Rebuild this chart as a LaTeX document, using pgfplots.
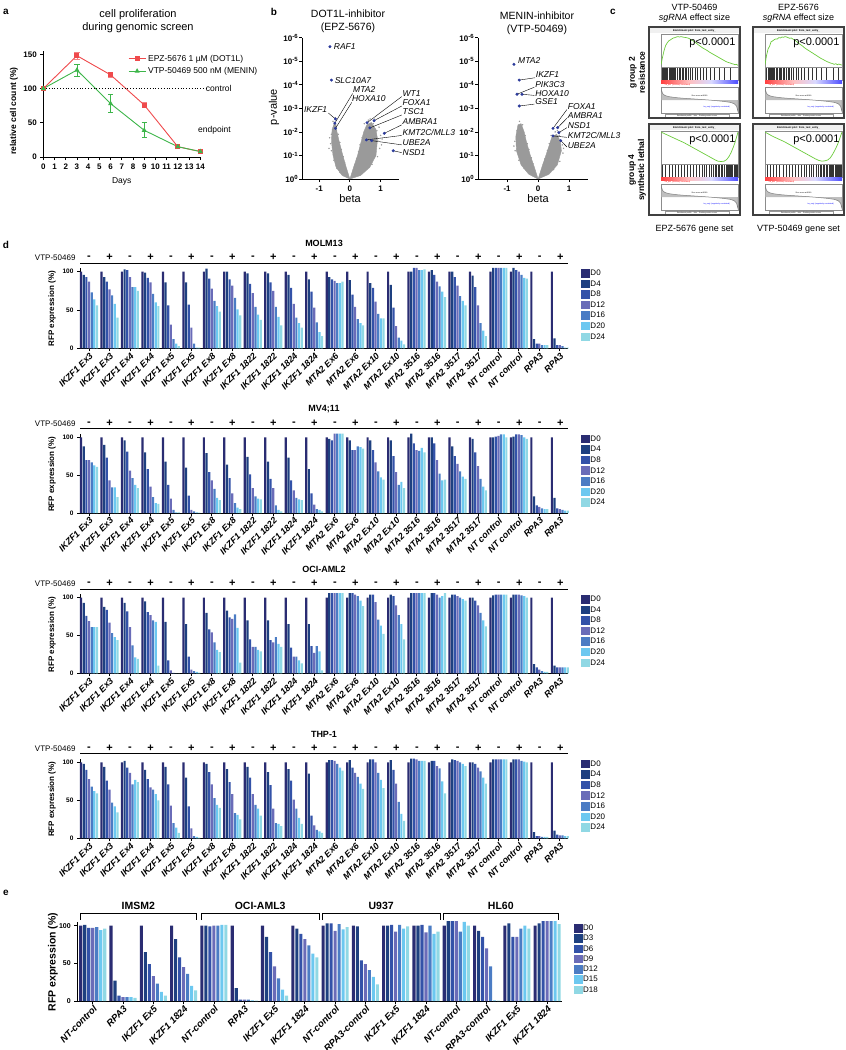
\documentclass[border=0pt]{standalone}
\usepackage{fontspec}
\setmainfont{Liberation Sans}
\usepackage{pgfplots}
\usepackage{pgfplotstable}
\pgfplotsset{compat=1.18}

\definecolor{cD0}{HTML}{2A2C72}
\definecolor{cD1}{HTML}{1E4080}
\definecolor{cD2}{HTML}{3352A8}
\definecolor{cD3}{HTML}{6A6CB8}
\definecolor{cD4}{HTML}{4B7CC4}
\definecolor{cD5}{HTML}{6CC8F0}
\definecolor{cD6}{HTML}{90D8E4}
\definecolor{cRed}{HTML}{EF4A4C}
\definecolor{cGreen}{HTML}{3DB54A}
\definecolor{cBlue}{HTML}{2B3A9A}
\definecolor{cloud}{HTML}{9A9A9A}
\definecolor{esgreen}{HTML}{6CCB3C}

\newcommand{\fs}[1]{\fontsize{#1}{#1}\selectfont}

\pgfplotstableread{
x a b c d e f g
0 100 96 93 87 73 64 56
1 100 93 87 77 69 58 40
2 100 103 102 93 80 80 75
3 100 99 92 86 71 60 55
4 100 86 56 31 12 6 3
5 100 86 57 27 6 1 1
6 100 104 91 78 62 55 48
7 100 100 90 82 66 51 43
8 100 98 84 72 54 44 37
9 100 98 86 75 54 41 30
10 100 96 79 58 40 33 27
11 100 90 74 53 34 21 16
12 100 93 90 88 85 85 87
13 100 89 70 54 38 33 30
14 100 85 79 61 45 39 39
15 100 83 53 29 14 10 5
16 100 100 105 105 102 102 103
17 100 102 96 87 81 74 67
18 100 100 93 82 68 62 56
19 100 95 80 56 33 23 16
20 100 105 105 105 105 105 105
21 100 105 102 100 96 92 91
22 100 12 6 6 4 4 4
23 100 13 4 4 3 1 1
}\tabMOLM

\pgfplotstableread{
x a b c d e f g
0 100 88 70 70 67 63 61
1 100 90 73 43 34 34 21
2 100 96 81 56 46 37 33
3 100 80 58 35 21 13 12
4 100 68 37 19 4 1 1
5 100 60 23 4 2 1 0.5
6 100 79 54 43 32 20 17
7 100 64 46 26 13 7 5
8 100 74 51 33 22 19 18
9 100 68 45 33 10 4 2
10 100 73 43 30 20 18 17
11 100 58 26 11 5 4 2
12 100 98 96 105 105 105 105
13 100 96 83 83 88 87 85
14 100 96 83 67 55 47 44
15 100 96 75 54 37 41 33
16 100 105 92 83 82 86 80
17 100 100 92 70 52 43 44
18 100 88 75 65 55 48 45
19 100 98 80 62 45 35 30
20 100 100 101 102 104 104 100
21 100 101 104 104 103 100 98
22 100 22 10 8 6 5 5
23 100 20 6 5 4 3 3
}\tabMV

\pgfplotstableread{
x a b c d e f g
0 100 93 76 69 61 61 61
1 100 88 84 67 53 48 44
2 100 93 82 61 37 21 19
3 100 95 81 77 70 68 10
4 100 68 17 4 0.5 0 0
5 100 65 22 5 3 2 1
6 100 80 58 54 41 31 28
7 100 83 74 72 78 60 14
8 100 70 45 35 35 31 29
9 100 70 44 41 48 39 35
10 100 65 34 22 22 17 13
11 100 65 36 27 36 29 4
12 100 106 106 106 106 106 106
13 100 106 106 104 102 96 89
14 100 104 104 94 71 63 52
15 100 104 102 90 77 65 45
16 100 106 106 106 106 106 106
17 100 106 106 104 100 102 106
18 100 104 104 102 100 98 96
19 100 100 96 90 80 70 62
20 100 103 104 104 104 104 104
21 100 104 104 104 103 102 100
22 100 12 8 5 3 2 2
23 100 10 8 8 8 8 8
}\tabOCI

\pgfplotstableread{
x a b c d e f g
0 100 98 90 78 68 62 59
1 100 94 76 64 47 42 34
2 100 102 93 86 71 77 74
3 100 90 78 67 64 58 50
4 100 94 71 43 20 14 7
5 100 80 42 13 3 2 1
6 100 98 87 71 53 44 40
7 100 91 74 58 33 31 25
8 100 94 80 58 44 39 30
9 100 87 70 39 20 19 16
10 100 91 76 51 39 27 19
11 100 85 30 17 11 9 7
12 100 103 103 102 98 93 89
13 100 103 93 86 81 72 65
14 100 104 104 100 86 77 66
15 100 103 90 72 48 32 23
16 100 105 105 104 102 102 102
17 100 102 102 95 92 75 59
18 100 104 103 102 100 98 95
19 100 100 98 93 88 80 72
20 100 104 104 104 104 104 104
21 100 104 104 104 102 101 100
22 100 8 3 3 2 2 2
23 100 10 5 4 4 3 3
}\tabTHP

\pgfplotstableread{
x a b c d e f g
0 100 101 97 97 98 94 96
1 100 27 7 5 5 5 4
2 100 65 49 33 23 12 7
3 100 82 58 45 36 20 14
4 100 100 99 100 100 101 101
5 100 17 2 2 2 1 0.5
6 100 85 65 46 30 15 7
7 100 96 89 82 74 63 58
8 100 103 103 93 102 95 98
9 100 99 54 49 41 32 22
10 100 100 101 92 101 96 99
11 100 100 101 91 100 89 92
12 100 106 106 106 92 105 100
13 100 93 85 70 46 1 0.5
14 100 103 85 85 96 100 96
15 100 103 106 106 106 106 102
}\tabE

\pgfplotsset{
  gp/.style={scale only axis, anchor=south west, axis lines*=left,
    axis line style={line width=1pt,-}, every tick/.style={line width=0.8pt,black},
    tick align=outside, major tick length=3pt, clip=false,
    tick label style={font=\bfseries\fs{7}}},
  sqleg/.style={legend image code/.code={\fill[##1] (0pt,-4pt) rectangle (8.5pt,4.5pt);}},
  barsets/.style={ybar=0.45pt, bar width=2.2pt},
}

\newcommand{\dpanel}[3]{%
\begin{axis}[gp, at={(80pt,-#2pt)}, width=488pt, height=#3pt,
  xmin=-0.44, xmax=23.4, ymin=0, ymax=105, barsets,
  xtick={0,...,23},
  xticklabels={IKZF1 Ex3,IKZF1 Ex3,IKZF1 Ex4,IKZF1 Ex4,IKZF1 Ex5,IKZF1 Ex5,IKZF1 Ex8,IKZF1 Ex8,IKZF1 1822,IKZF1 1822,IKZF1 1824,IKZF1 1824,MTA2 Ex6,MTA2 Ex6,MTA2 Ex10,MTA2 Ex10,MTA2 3516,MTA2 3516,MTA2 3517,MTA2 3517,NT control,NT control,RPA3,RPA3},
  x tick label style={rotate=45, anchor=north east, inner sep=0.5pt, font=\bfseries\itshape\fs{9}},
  ytick={0,50,100}, yticklabels={0,50,100},
  y tick label style={font=\bfseries\fs{6.5}},
  sqleg, legend cell align=left,
  legend style={at={(1.027,0.985)}, anchor=north west, draw=none, fill=none, font=\fs{8}, row sep=1.9pt, inner sep=0pt, nodes={inner sep=0.6pt}},
  ]
\addplot[fill=cD0,draw=none] table[x=x,y=a]{#1};
\addplot[fill=cD1,draw=none] table[x=x,y=b]{#1};
\addplot[fill=cD2,draw=none] table[x=x,y=c]{#1};
\addplot[fill=cD3,draw=none] table[x=x,y=d]{#1};
\addplot[fill=cD4,draw=none] table[x=x,y=e]{#1};
\addplot[fill=cD5,draw=none] table[x=x,y=f]{#1};
\addplot[fill=cD6,draw=none] table[x=x,y=g]{#1};
\legend{D0,D4,D8,D12,D16,D20,D24}
\end{axis}}

% header for d panels: #1 = y of the 100 tick, #2 = title
\newcommand{\dheader}[2]{%
  \node[font=\bfseries\fs{9}] at (324,#1-28) {#2};
  \node[anchor=east, font=\fs{8}] at (79,#1-14) {VTP-50469};
  \foreach \i in {0,2,...,22}{\node[font=\bfseries\fs{11}] at ({89+20.49*\i},#1-13.5) {-};}
  \foreach \i in {1,3,...,23}{\node[font=\bfseries\fs{11}] at ({89+20.49*\i},#1-14) {+};}
  \draw[line width=0.9pt] (80,#1-8.5) -- (568,#1-8.5);
  \node[rotate=90, font=\bfseries\fs{8}] at (52,#1+37) {RFP expression (\%)};
}

% GSEA mini plot: #1 X, #2 Y, #3 ES coords, #4 hits, #5 ymin, #6 ymax
\newcommand{\gsea}[6]{%
  \fill[black!6] (#1+1,#2+1) rectangle (#1+90,#2+6);
  \node[font=\bfseries\fs{2.6}] at (#1+45.5,#2+3.6) {Enrichment plot: from\_text\_entry\_};
  \begin{axis}[at={({(#1+12)*1pt},{-(#2+40)*1pt})}, anchor=south west, scale only axis,
     width=77pt, height=33pt, xmin=0, xmax=100, ymin=#5, ymax=#6,
     xtick=\empty, ytick=\empty, axis line style={black!45, line width=0.3pt}]
    \addplot[esgreen, line width=0.7pt] coordinates {#3};
  \end{axis}
  \begin{axis}[at={({(#1+12)*1pt},{-(#2+53)*1pt})}, anchor=south west, scale only axis,
     width=77pt, height=12.5pt, xmin=0, xmax=100, ymin=0, ymax=1,
     xtick=\empty, ytick=\empty, axis line style={black!45, line width=0.3pt}]
    \addplot[ycomb, black!80, line width=0.35pt, mark=none] coordinates {#4};
  \end{axis}
  \shade[left color=red!75, right color=red!25] (#1+12,#2+53) rectangle (#1+40,#2+56.5);
  \shade[left color=red!25, right color=blue!15] (#1+40,#2+53) rectangle (#1+62,#2+56.5);
  \shade[left color=blue!15, right color=blue!70] (#1+62,#2+53) rectangle (#1+89,#2+56.5);
  \node[anchor=west, text=red, font=\fs{1.9}] at (#1+12,#2+58.5) {'na\_pos' (positively correlated)};
  \begin{axis}[at={({(#1+12)*1pt},{-(#2+86)*1pt})}, anchor=south west, scale only axis,
     width=77pt, height=26pt, xmin=0, xmax=100, ymin=-1, ymax=1,
     xtick=\empty, ytick=\empty, axis line style={black!45, line width=0.3pt}]
    \addplot[black!50, fill=black!25, line width=0.5pt] coordinates {(0,0)(0,0.9)(2,0.5)(5,0.35)(10,0.26)(20,0.18)(30,0.13)(40,0.09)(50,0.05)(60,0.01)(70,-0.04)(80,-0.1)(90,-0.18)(95,-0.28)(98,-0.45)(100,-0.9)(100,0)};
    \node[font=\fs{1.9}] at (axis cs:50,0.3) {Zero cross at 9919};
    \node[text=blue, font=\fs{1.9}] at (axis cs:72,-0.55) {'na\_neg' (negatively correlated)};
  \end{axis}
  \draw[black!40, line width=0.2pt] (#1+16,#2+87.2) rectangle (#1+80,#2+90.3);
  \node[font=\fs{1.8}] at (#1+48,#2+88.8) {Enrichment profile \quad Hits \quad Ranking metric scores};
  \draw[line width=1.4pt, black!75] (#1,#2) rectangle (#1+91,#2+91);
  \node[anchor=east, font=\fs{11}] at (#1+90,#2+15.5) {p<0.0001};
}

\begin{document}
\begin{tikzpicture}[x=1pt,y=-1pt]
\path[use as bounding box] (0,0) rectangle (846,1050);

% ---------- panel labels ----------
\node[font=\bfseries\fs{10}] at (6,12) {a};
\node[font=\bfseries\fs{10}] at (274,12) {b};
\node[font=\bfseries\fs{10}] at (613,12) {c};
\node[font=\bfseries\fs{10}] at (6,245) {d};
\node[font=\bfseries\fs{10}] at (6,893) {e};

% ---------- panel a ----------
\node[align=center, font=\fontsize{11}{13}\selectfont] at (138,21.5) {cell proliferation\\during genomic screen};
\begin{axis}[gp, at={(43.3pt,-157pt)}, width=157pt, height=106.1pt,
  xmin=0, xmax=14, ymin=0, ymax=155,
  xtick={0,1,2,3,4,5,6,7,8,9,10,11,12,13,14}, xticklabels={0,1,2,3,4,5,6,7,8,9,10,11,12,13,14},
  ytick={0,50,100,150}, yticklabels={0,50,100,150},
  tick label style={font=\bfseries\fs{8}},
  legend style={at={(0.52,1.0)}, anchor=north west, draw=none, fill=none, font=\fs{8.5}, row sep=0.5pt},
  legend cell align=left]
\addplot[cRed, line width=0.9pt, mark=square*, mark size=2pt,
   error bars/.cd, y dir=both, y explicit,
   error bar style={line width=0.7pt, cRed!70}, error mark options={rotate=90, mark size=2.6pt, line width=0.7pt, cRed!70}]
  coordinates {(0,100) +- (0,0) (3,148) +- (0,5) (6,120) +- (0,4) (9,76) +- (0,4) (12,15) +- (0,2) (14,8) +- (0,1)};
\addplot[cGreen, line width=0.9pt, mark=triangle*, mark size=2pt,
   error bars/.cd, y dir=both, y explicit,
   error bar style={line width=0.7pt}, error mark options={rotate=90, mark size=2.6pt, line width=0.7pt}]
  coordinates {(0,100) +- (0,0) (3,127) +- (0,9) (6,78) +- (0,13) (9,39) +- (0,11) (12,15) +- (0,1.5) (14,8) +- (0,1)};
\addplot[black, dotted, line width=0.8pt, forget plot] coordinates {(0,100) (14.5,100)};
\legend{EPZ-5676 1 µM (DOT1L), VTP-50469 500 nM (MENIN)}
\node[anchor=west, font=\fs{8.5}, inner sep=1pt] at (axis cs:14.4,100) {control};
\node[anchor=west, font=\fs{8.5}, inner sep=1pt] at (axis cs:13.7,39) {endpoint};
\end{axis}
\node[font=\fs{8.5}] at (121.7,181) {Days};
\node[rotate=90, font=\bfseries\fs{8.5}] at (14,111) {relative cell count (\%)};

% ---------- panel b ----------
\node[align=center, font=\fontsize{10.5}{13}\selectfont] at (348,21.5) {DOT1L-inhibitor\\(EPZ-5676)};
\node[align=center, font=\fontsize{10.5}{13}\selectfont] at (537,23.5) {MENIN-inhibitor\\(VTP-50469)};
\node[rotate=90, font=\fs{11}] at (274,107) {p-value};
\node[font=\fs{11}] at (350,199) {beta};
\node[font=\fs{11}] at (538,199) {beta};

\begin{axis}[gp, at={(302.3pt,-179pt)}, width=96.7pt, height=141.3pt,
  xmin=-1.55, xmax=1.6, ymin=0, ymax=6,
  xtick={-1,0,1}, xticklabels={-1,0,1},
  ytick={0,1,2,3,4,5,6},
  yticklabels={10\textsuperscript{0},10\textsuperscript{-1},10\textsuperscript{-2},10\textsuperscript{-3},10\textsuperscript{-4},10\textsuperscript{-5},10\textsuperscript{-6}},
  tick label style={font=\bfseries\fs{8}}, y tick label style={inner sep=1pt}]
\addplot[fill=cloud, draw=cloud, line width=0.4pt] coordinates {(0,0)(-0.12,0.5)(-0.23,1.0)(-0.35,1.6)(-0.42,2.0)(-0.45,2.3)(-0.5,2.4)(-0.58,2.1)(-0.6,1.6)(-0.55,1.0)(-0.45,0.5)(-0.25,0.15)(0,0)};
\addplot[fill=cloud, draw=cloud, line width=0.4pt] coordinates {(0,0)(0.12,0.5)(0.25,1.0)(0.35,1.5)(0.45,2.0)(0.55,2.3)(0.7,2.4)(0.85,2.1)(0.9,1.7)(0.85,1.0)(0.65,0.5)(0.35,0.15)(0,0)};
\addplot[only marks, mark=*, mark size=0.5pt, cloud] coordinates {(-0.55,2.45)(-0.52,2.2)(-0.6,1.9)(-0.63,1.5)(-0.6,1.2)(-0.52,0.8)(-0.42,0.45)(-0.32,0.28)(-0.48,2.6)(-0.38,1.9)(-0.33,1.55)(-0.28,1.25)(-0.22,0.95)(-0.17,0.7)(-0.66,1.75)(-0.68,1.3)(0.47,2.35)(0.6,2.5)(0.76,2.35)(0.88,2.05)(0.93,1.6)(0.97,1.3)(0.9,0.95)(0.72,0.62)(0.52,0.4)(0.32,0.22)(0.4,1.75)(0.33,1.45)(0.28,1.15)(0.22,0.85)(0.17,0.6)(1.0,1.85)(1.03,1.45)(0.66,2.55)(0.8,2.6)(0.95,2.2)(1.05,1.7)};
\addplot[only marks, mark=*, mark size=1.3pt, cBlue] coordinates {(-0.65,5.62)(-0.6,4.2)(-0.47,2.55)(-0.49,2.37)(-0.47,2.15)(0.56,2.39)(0.79,2.48)(0.65,2.17)(1.12,1.94)(0.54,1.66)(0.71,1.63)(1.41,1.2)};
\begin{scope}[font=\itshape\fs{8.5}]
\node[anchor=west, inner sep=1pt] at (axis cs:-0.56,5.62) {RAF1};
\node[anchor=west, inner sep=1pt] at (axis cs:-0.53,4.2) {SLC10A7};
\node[anchor=east, inner sep=1pt] at (axis cs:-0.7,2.95) {IKZF1};
\node[anchor=west, inner sep=1pt] at (axis cs:0.07,3.78) {MTA2};
\node[anchor=west, inner sep=1pt] at (axis cs:0.03,3.4) {HOXA10};
\node[anchor=west, inner sep=1pt] at (axis cs:1.68,3.64) {WT1};
\node[anchor=west, inner sep=1pt] at (axis cs:1.68,3.24) {FOXA1};
\node[anchor=west, inner sep=1pt] at (axis cs:1.68,2.86) {TSC1};
\node[anchor=west, inner sep=1pt] at (axis cs:1.68,2.43) {AMBRA1};
\node[anchor=west, inner sep=1pt] at (axis cs:1.68,1.98) {KMT2C/MLL3};
\node[anchor=west, inner sep=1pt] at (axis cs:1.68,1.54) {UBE2A};
\node[anchor=west, inner sep=1pt] at (axis cs:1.68,1.12) {NSD1};
\end{scope}
\draw[line width=0.4pt] (axis cs:-0.7,2.8) -- (axis cs:-0.47,2.55);
\draw[line width=0.4pt] (axis cs:0.09,3.63) -- (axis cs:-0.49,2.37);
\draw[line width=0.4pt] (axis cs:0.06,3.25) -- (axis cs:-0.47,2.15);
\draw[line width=0.4pt] (axis cs:1.69,3.5) -- (axis cs:0.56,2.39);
\draw[line width=0.4pt] (axis cs:1.69,3.1) -- (axis cs:0.79,2.48);
\draw[line width=0.4pt] (axis cs:1.69,2.72) -- (axis cs:0.65,2.17);
\draw[line width=0.4pt] (axis cs:1.69,2.3) -- (axis cs:1.12,1.94);
\draw[line width=0.4pt] (axis cs:1.69,1.85) -- (axis cs:0.54,1.66);
\draw[line width=0.4pt] (axis cs:1.69,1.45) -- (axis cs:0.71,1.63);
\draw[line width=0.4pt] (axis cs:1.69,1.12) -- (axis cs:1.41,1.2);
\end{axis}

\begin{axis}[gp, at={(478.3pt,-179pt)}, width=109.4pt, height=141.3pt,
  xmin=-1.93, xmax=1.6, ymin=0, ymax=6,
  xtick={-1,0,1}, xticklabels={-1,0,1},
  ytick={0,1,2,3,4,5,6},
  yticklabels={10\textsuperscript{0},10\textsuperscript{-1},10\textsuperscript{-2},10\textsuperscript{-3},10\textsuperscript{-4},10\textsuperscript{-5},10\textsuperscript{-6}},
  tick label style={font=\bfseries\fs{8}}, y tick label style={inner sep=1pt}]
\addplot[fill=cloud, draw=cloud, line width=0.4pt] coordinates {(0,0)(-0.12,0.5)(-0.25,1.0)(-0.38,1.6)(-0.45,2.0)(-0.55,2.35)(-0.65,2.3)(-0.72,1.8)(-0.7,1.2)(-0.55,0.6)(-0.3,0.2)(0,0)};
\addplot[fill=cloud, draw=cloud, line width=0.4pt] coordinates {(0,0)(0.12,0.5)(0.25,1.0)(0.35,1.4)(0.45,1.8)(0.6,1.9)(0.72,1.6)(0.75,1.2)(0.62,0.6)(0.35,0.2)(0,0)};
\addplot[only marks, mark=*, mark size=0.5pt, cloud] coordinates {(-0.6,2.45)(-0.5,2.3)(-0.68,2.05)(-0.75,1.6)(-0.74,1.2)(-0.62,0.8)(-0.45,0.45)(-0.3,0.28)(-0.42,1.85)(-0.35,1.5)(-0.3,1.25)(-0.22,0.9)(-0.17,0.65)(-0.78,1.4)(0.42,1.85)(0.55,2.0)(0.68,1.85)(0.78,1.45)(0.8,1.1)(0.7,0.75)(0.5,0.4)(0.32,0.25)(0.36,1.5)(0.3,1.2)(0.22,0.85)(0.17,0.6)(0.62,2.05)(0.82,1.3)};
\addplot[only marks, mark=*, mark size=1.3pt, cBlue] coordinates {(-0.78,4.87)(-0.61,4.2)(-0.68,3.6)(-0.52,3.6)(-0.61,3.1)(0.48,2.15)(0.63,2.18)(0.67,1.97)(0.48,1.83)(0.73,1.63)};
\begin{scope}[font=\itshape\fs{8.5}]
\node[anchor=west, inner sep=1pt] at (axis cs:-0.68,5.01) {MTA2};
\node[anchor=west, inner sep=1pt] at (axis cs:-0.11,4.42) {IKZF1};
\node[anchor=west, inner sep=1pt] at (axis cs:-0.13,4.02) {PIK3C3};
\node[anchor=west, inner sep=1pt] at (axis cs:-0.13,3.64) {HOXA10};
\node[anchor=west, inner sep=1pt] at (axis cs:-0.13,3.28) {GSE1};
\node[anchor=west, inner sep=1pt] at (axis cs:0.92,3.07) {FOXA1};
\node[anchor=west, inner sep=1pt] at (axis cs:0.92,2.7) {AMBRA1};
\node[anchor=west, inner sep=1pt] at (axis cs:0.92,2.29) {NSD1};
\node[anchor=west, inner sep=1pt] at (axis cs:0.92,1.87) {KMT2C/MLL3};
\node[anchor=west, inner sep=1pt] at (axis cs:0.92,1.44) {UBE2A};
\end{scope}
\draw[line width=0.4pt] (axis cs:-0.1,4.3) -- (axis cs:-0.61,4.2);
\draw[line width=0.4pt] (axis cs:-0.12,3.9) -- (axis cs:-0.68,3.6);
\draw[line width=0.4pt] (axis cs:-0.12,3.55) -- (axis cs:-0.52,3.6);
\draw[line width=0.4pt] (axis cs:-0.12,3.18) -- (axis cs:-0.61,3.1);
\draw[line width=0.4pt] (axis cs:0.93,2.95) -- (axis cs:0.48,2.15);
\draw[line width=0.4pt] (axis cs:0.93,2.58) -- (axis cs:0.63,2.18);
\draw[line width=0.4pt] (axis cs:0.93,2.18) -- (axis cs:0.67,1.97);
\draw[line width=0.4pt] (axis cs:0.93,1.77) -- (axis cs:0.48,1.83);
\draw[line width=0.4pt] (axis cs:0.93,1.36) -- (axis cs:0.73,1.63);
\end{axis}

% ---------- panel c ----------
\node[font=\fs{9}] at (694.5,7) {VTP-50469};
\node[font=\fs{9}] at (694.5,18) {\textit{sgRNA} effect size};
\node[font=\fs{9}] at (798.5,7) {EPZ-5676};
\node[font=\fs{9}] at (798.5,18) {\textit{sgRNA} effect size};
\node[rotate=90, align=center, font=\bfseries\fontsize{8.5}{10}\selectfont] at (637,72.5) {group 2\\resistance};
\node[rotate=90, align=center, font=\bfseries\fontsize{8.5}{10}\selectfont] at (637,170) {group 4\\synthetic lethal};
\node[font=\fs{9}] at (694.5,229) {EPZ-5676 gene set};
\node[font=\fs{9}] at (798.5,229) {VTP-50469 gene set};

\gsea{649}{27}{(0,0.02)(2,0.25)(4,0.45)(6,0.6)(8,0.68)(10,0.74)(12,0.77)(14,0.8)(16,0.83)(18,0.84)(20,0.86)(22,0.87)(24,0.86)(26,0.87)(28,0.86)(30,0.85)(33,0.84)(36,0.82)(39,0.78)(42,0.74)(45,0.69)(48,0.63)(51,0.58)(54,0.53)(57,0.49)(60,0.45)(63,0.4)(66,0.36)(69,0.32)(72,0.28)(75,0.24)(78,0.2)(81,0.16)(84,0.12)(87,0.09)(90,0.07)(92,0.05)(94,0.04)(96,0.02)(98,0.03)(100,0.0)}{(1,1)(2.5,1)(4,1)(5,1)(7,1)(8,1)(10,1)(11.5,1)(13,1)(14,1)(16,1)(17.5,1)(19,1)(21,1)(23,1)(25,1)(27,1)(29,1)(31,1)(33,1)(35.5,1)(38,1)(41,1)(44,1)(47,1)(51,1)(55,1)(59,1)(64,1)(69,1)(75,1)(82,1)(90,1)}{-0.05}{0.95}
\gsea{753}{27}{(0,0.02)(2,0.3)(4,0.5)(6,0.58)(8,0.72)(10,0.74)(12,0.78)(14,0.8)(16,0.8)(18,0.84)(20,0.83)(22,0.86)(24,0.85)(26,0.87)(28,0.86)(30,0.84)(32,0.82)(34,0.83)(36,0.8)(40,0.74)(44,0.66)(48,0.6)(52,0.52)(56,0.46)(60,0.4)(64,0.34)(68,0.28)(72,0.22)(76,0.17)(80,0.12)(84,0.08)(88,0.05)(90,0.03)(92,0.05)(94,0.02)(96,0.04)(98,0.02)(100,0.01)}{(1,1)(2,1)(3.5,1)(5,1)(6.5,1)(8,1)(9,1)(11,1)(12.5,1)(14,1)(16,1)(18,1)(19.5,1)(21,1)(23,1)(25,1)(27.5,1)(30,1)(32,1)(34.5,1)(37,1)(40,1)(43,1)(47,1)(51,1)(56,1)(61,1)(67,1)(73,1)(80,1)(88,1)(95,1)}{-0.05}{0.95}
\gsea{649}{124}{(0,0)(5,-0.05)(10,-0.1)(15,-0.15)(20,-0.2)(25,-0.25)(30,-0.3)(35,-0.36)(40,-0.42)(45,-0.48)(50,-0.54)(55,-0.6)(60,-0.66)(65,-0.72)(70,-0.78)(74,-0.82)(78,-0.83)(82,-0.82)(85,-0.78)(88,-0.7)(91,-0.58)(94,-0.42)(96,-0.3)(98,-0.15)(100,0)}{(2,1)(6,1)(10,1)(14,1)(18,1)(22,1)(26,1)(30,1)(34,1)(38,1)(42,1)(46,1)(50,1)(53,1)(56,1)(59,1)(62,1)(65,1)(68,1)(70,1)(72,1)(74,1)(76,1)(78,1)(80,1)(82,1)(84,1)(85.5,1)(87,1)(88.5,1)(90,1)(91.5,1)(93,1)(94.5,1)(96,1)(97.5,1)(99,1)}{-0.9}{0.03}
\gsea{753}{124}{(0,0)(5,-0.06)(10,-0.12)(15,-0.17)(20,-0.22)(25,-0.27)(30,-0.33)(35,-0.39)(40,-0.45)(45,-0.51)(50,-0.57)(55,-0.63)(60,-0.69)(65,-0.75)(70,-0.8)(74,-0.82)(78,-0.81)(82,-0.78)(85,-0.72)(88,-0.62)(91,-0.5)(94,-0.36)(96,-0.25)(98,-0.12)(100,0)}{(3,1)(7,1)(11,1)(15,1)(19,1)(23,1)(27,1)(31,1)(35,1)(39,1)(43,1)(47,1)(51,1)(54,1)(57,1)(60,1)(63,1)(66,1)(68.5,1)(71,1)(73,1)(75,1)(77,1)(79,1)(81,1)(83,1)(84.5,1)(86,1)(87.5,1)(89,1)(90.5,1)(92,1)(93.5,1)(95,1)(96.5,1)(98,1)(99.5,1)}{-0.9}{0.03}

% ---------- panel d ----------
\dheader{271.7}{MOLM13}
\dpanel{\tabMOLM}{348.3}{80.4}
\dheader{437.3}{MV4;11}
\dpanel{\tabMV}{513}{79.5}
\dheader{597.7}{OCI-AML2}
\dpanel{\tabOCI}{673.3}{79.4}
\dheader{762.3}{THP-1}
\dpanel{\tabTHP}{838.3}{79.8}

% ---------- panel e ----------
\begin{axis}[gp, at={(77.3pt,-1001pt)}, width=484.4pt, height=79.1pt,
  xmin=-0.51, xmax=15.48, ymin=0, ymax=105, ybar=0.9pt, bar width=3.1pt,
  xtick={0,...,15},
  xticklabels={NT-control,RPA3,IKZF1 Ex5,IKZF1 1824,NT-control,RPA3,IKZF1 Ex5,IKZF1 1824,NT-control,RPA3-control,IKZF1 Ex5,IKZF1 1824,NT-control,RPA3-control,IKZF1 Ex5,IKZF1 1824},
  x tick label style={rotate=45, anchor=north east, inner sep=0.5pt, font=\bfseries\itshape\fs{9.5}},
  ytick={0,50,100}, yticklabels={0,50,100},
  y tick label style={font=\bfseries\fs{7}},
  sqleg, legend cell align=left,
  legend style={at={(1.025,0.975)}, anchor=north west, draw=none, fill=none, font=\fs{8}, row sep=1.6pt, inner sep=0pt, nodes={inner sep=0.6pt}},
  ]
\addplot[fill=cD0,draw=none] table[x=x,y=a]{\tabE};
\addplot[fill=cD1,draw=none] table[x=x,y=b]{\tabE};
\addplot[fill=cD2,draw=none] table[x=x,y=c]{\tabE};
\addplot[fill=cD3,draw=none] table[x=x,y=d]{\tabE};
\addplot[fill=cD4,draw=none] table[x=x,y=e]{\tabE};
\addplot[fill=cD5,draw=none] table[x=x,y=f]{\tabE};
\addplot[fill=cD6,draw=none] table[x=x,y=g]{\tabE};
\legend{D0,D3,D6,D9,D12,D15,D18}
\end{axis}
\node[rotate=90, font=\bfseries\fs{10.5}] at (53,962) {RFP expression (\%)};
\foreach \xa/\xb/\nm in {80/196.7/IMSM2, 201/319.3/OCI-AML3, 322.3/440/U937, 443.3/558.3/HL60}{
  \draw[line width=1pt] (\xa,920) -- (\xa,913.5) -- (\xb,913.5) -- (\xb,920);
  \node[font=\bfseries\fs{10.5}] at ({(\xa+\xb)/2},905.5) {\nm};
}
\end{tikzpicture}
\end{document}
